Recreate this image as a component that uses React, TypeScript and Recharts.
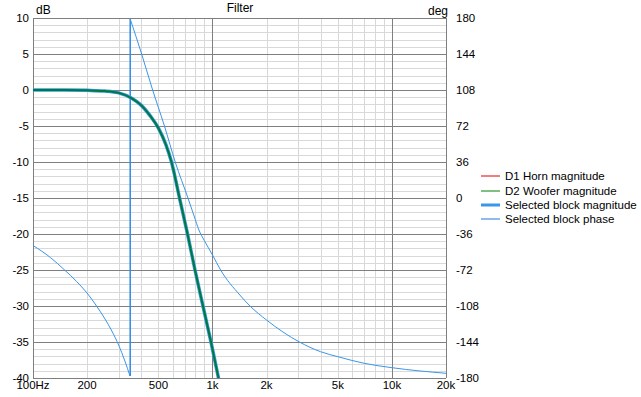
import { LineChart, Line, XAxis, YAxis, CartesianGrid, Legend } from "recharts";

// axis ticks
const FREQ_TICKS = [100, 200, 500, 1000, 2000, 5000, 10000, 20000];
const FREQ_LABELS = ["100Hz", "200", "500", "1k", "2k", "5k", "10k", "20k"];
const DB_TICKS = [-40, -35, -30, -25, -20, -15, -10, -5, 0, 5, 10];
const DEG_TICKS = [-180, -144, -108, -72, -36, 0, 36, 72, 108, 144, 180];

// grid
const MAJOR_FREQ = [100, 1000, 10000, 20000];
const MINOR_FREQ = [
  200, 300, 400, 500, 600, 700, 800, 900,
  2000, 3000, 4000, 5000, 6000, 7000, 8000, 9000,
];
const MINOR_DB = [
  -39, -38, -37, -36, -34, -33, -32, -31, -29, -28, -27, -26, -24, -23, -22, -21,
  -19, -18, -17, -16, -14, -13, -12, -11, -9, -8, -7, -6, -4, -3, -2, -1,
  1, 2, 3, 4, 6, 7, 8, 9,
];

// selected block magnitude (dB)
const MAG_FREQ = [100, 150, 200, 250, 300, 355, 400, 450, 500, 550, 591, 655, 726, 799, 885, 981, 1080, 1160];
const MAG_DB = [0, 0, -0.05, -0.15, -0.4, -1.15, -2.1, -3.6, -5.3, -7.6, -10, -15, -20, -25, -30, -35, -40, -44];

// selected block phase (deg), wrapped
const PHASE_LOW_FREQ = [100, 125, 150, 175, 200, 226, 250, 275, 300, 325, 347];
const PHASE_LOW_DEG = [-47.5, -59.5, -72, -83.5, -95, -108, -120, -133, -147, -163, -178];
const WRAP_FREQ = [348, 348];
const WRAP_DEG = [-178, 179];
const PHASE_HIGH_FREQ = [348, 403, 464, 540, 620, 730, 790, 840, 900, 1000, 1110, 1420, 1618, 2000, 3050, 4000, 5000, 7000, 10000, 20000];
const PHASE_HIGH_DEG = [179, 144, 108, 72, 36, 0, -18, -32, -42.5, -57, -72, -97, -108, -122, -144, -153.7, -158.7, -165.3, -169.7, -175.3];

const LEGEND_ITEMS = [
  { name: "D1 Horn magnitude", color: "#e00000", width: 1 },
  { name: "D2 Woofer magnitude", color: "#008000", width: 1 },
  { name: "Selected block magnitude", color: "#3a96e8", width: 3 },
  { name: "Selected block phase", color: "#1f78d8", width: 1 },
];

const FONT = "'Liberation Sans', Arial, sans-serif";

const magData = MAG_FREQ.map((f, i) => ({ f, db: MAG_DB[i] }));
const phaseLow = PHASE_LOW_FREQ.map((f, i) => ({ f, deg: PHASE_LOW_DEG[i] }));
const phaseWrap = WRAP_FREQ.map((f, i) => ({ f, deg: WRAP_DEG[i] }));
const phaseHigh = PHASE_HIGH_FREQ.map((f, i) => ({ f, deg: PHASE_HIGH_DEG[i] }));

const formatFreq = (v: number) => FREQ_LABELS[FREQ_TICKS.indexOf(v)] ?? String(v);

// grid lines placed through the axis scales, snapped to whole pixels
const yLines = (values: number[]) => ({ yAxis, offset }: any) => {
  if (yAxis && typeof yAxis.scale === "function") return values.map((v) => Math.round(yAxis.scale(v)) + 0.5);
  return values.map((v) => Math.round(offset.top + ((10 - v) / 50) * offset.height) + 0.5);
};
const xLines = (values: number[]) => ({ xAxis, offset }: any) => {
  if (xAxis && typeof xAxis.scale === "function") return values.map((v) => Math.round(xAxis.scale(v)) + 0.5);
  return values.map((v) => Math.round(offset.left + (Math.log10(v / 100) / Math.log10(200)) * offset.width) + 0.5);
};

const renderLegend = () => (
  <div style={{ fontFamily: FONT, fontSize: 11.5, color: "#000", whiteSpace: "nowrap" }}>
    {LEGEND_ITEMS.map((item) => (
      <div key={item.name} style={{ display: "flex", alignItems: "center", height: 14.4 }}>
        <svg width={24} height={6}>
          <line x1={0} x2={19} y1={3} y2={3} stroke={item.color} strokeWidth={item.width} />
        </svg>
        <span>{item.name}</span>
      </div>
    ))}
  </div>
);

const labelStyle: React.CSSProperties = {
  position: "absolute",
  fontFamily: FONT,
  fontSize: 12,
  color: "#000",
  lineHeight: "14px",
};

const tickStyle = { fill: "#000", fontSize: 11.5 };

export default function App() {
  return (
    <div style={{ position: "absolute", left: 0, top: 0, width: 641, height: 397, background: "#fff" }}>
      <span style={{ ...labelStyle, left: 0, width: 480, textAlign: "center", top: 1 }}>Filter</span>
      <span style={{ ...labelStyle, left: 36, top: 3 }}>dB</span>
      <span style={{ ...labelStyle, left: 428, top: 4 }}>deg</span>
      <LineChart
        width={641}
        height={397}
        margin={{ top: 18, right: 155, left: 0, bottom: 0 }}
        style={{ fontFamily: FONT }}
      >
        <CartesianGrid
          horizontalCoordinatesGenerator={yLines(MINOR_DB)}
          verticalCoordinatesGenerator={xLines(MINOR_FREQ)}
          stroke="#d9d9d9"
          strokeWidth={1}
        />
        <CartesianGrid
          horizontalCoordinatesGenerator={yLines(DB_TICKS)}
          verticalCoordinatesGenerator={xLines(MAJOR_FREQ)}
          stroke="#7f7f7f"
          strokeWidth={1}
        />
        <XAxis
          dataKey="f"
          type="number"
          scale="log"
          domain={[100, 20000]}
          ticks={FREQ_TICKS}
          tickFormatter={formatFreq}
          allowDataOverflow
          axisLine={false}
          tickLine={false}
          tickSize={0}
          tickMargin={3}
          height={19}
          interval={0}
          tick={tickStyle}
        />
        <YAxis
          yAxisId={0}
          type="number"
          domain={[-40, 10]}
          ticks={DB_TICKS}
          allowDataOverflow
          axisLine={false}
          tickLine={false}
          tickSize={0}
          tickMargin={4}
          width={33}
          interval={0}
          tick={tickStyle}
        />
        <YAxis
          yAxisId="deg"
          orientation="right"
          type="number"
          domain={[-180, 180]}
          ticks={DEG_TICKS}
          allowDataOverflow
          axisLine={false}
          tickLine={false}
          tickSize={0}
          tickMargin={10}
          width={40}
          interval={0}
          tick={{ ...tickStyle, textAnchor: "start" }}
        />
        <Line
          data={phaseLow}
          yAxisId="deg"
          dataKey="deg"
          type="monotone"
          stroke="#3a96e8"
          strokeWidth={1}
          dot={false}
          isAnimationActive={false}
        />
        <Line
          data={phaseWrap}
          yAxisId="deg"
          dataKey="deg"
          type="linear"
          stroke="#2f8ae6"
          strokeWidth={1.5}
          dot={false}
          isAnimationActive={false}
        />
        <Line
          data={phaseHigh}
          yAxisId="deg"
          dataKey="deg"
          type="monotone"
          stroke="#3a96e8"
          strokeWidth={1}
          dot={false}
          isAnimationActive={false}
        />
        <Line
          data={magData}
          yAxisId={0}
          dataKey="db"
          type="monotone"
          stroke="#3a96e8"
          strokeWidth={3.5}
          dot={false}
          isAnimationActive={false}
        />
        <Line
          data={magData}
          yAxisId={0}
          dataKey="db"
          type="monotone"
          stroke="#007a3c"
          strokeWidth={2}
          dot={false}
          isAnimationActive={false}
        />
        <Legend
          layout="vertical"
          align="center"
          verticalAlign="middle"
          content={renderLegend}
          wrapperStyle={{ left: 481, top: 169, width: 160 }}
        />
      </LineChart>
    </div>
  );
}
